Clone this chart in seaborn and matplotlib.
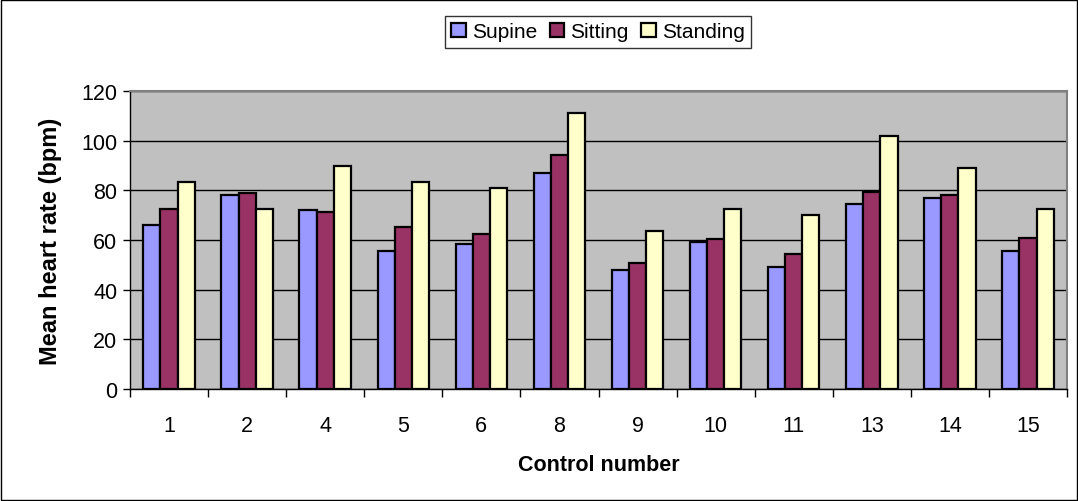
import matplotlib
matplotlib.use("Agg")
import matplotlib.pyplot as plt
import seaborn as sns
import pandas as pd
from matplotlib.patches import Rectangle

controls = ["1", "2", "4", "5", "6", "8", "9", "10", "11", "13", "14", "15"]
supine = [66.2, 78.3, 72.2, 55.5, 58.2, 87.1, 48.0, 59.0, 49.3, 74.4, 77.1, 55.5]
sitting = [72.5, 78.8, 71.4, 65.2, 62.3, 94.1, 50.9, 60.6, 54.2, 79.5, 78.3, 60.9]
standing = [83.3, 72.5, 89.8, 83.3, 81.1, 111.0, 63.7, 72.5, 69.9, 101.9, 88.8, 72.5]
series_names = ["Supine", "Sitting", "Standing"]
colors = ["#9999FF", "#993366", "#FFFFCC"]
y_ticks = [0, 20, 40, 60, 80, 100, 120]

rows = []
for name, vals in zip(series_names, [supine, sitting, standing]):
    for c, v in zip(controls, vals):
        rows.append({"Control": c, "Position": name, "Rate": v})
df = pd.DataFrame(rows)

sns.set_style("white")
plt.rcParams["font.family"] = ["Liberation Sans", "DejaVu Sans"]
plt.rcParams["text.color"] = "black"
plt.rcParams["axes.labelcolor"] = "black"
plt.rcParams["xtick.color"] = "black"
plt.rcParams["ytick.color"] = "black"

fig = plt.figure(figsize=(10.78, 5.02), dpi=100)
ax = fig.add_axes([130/1078, 1 - 390/502, (1067 - 130)/1078, (390 - 92)/502])
ax.set_facecolor("#C0C0C0")

sns.barplot(data=df, x="Control", y="Rate", hue="Position", order=controls,
            hue_order=series_names, palette=colors, width=0.66,
            edgecolor="black", linewidth=1.6, saturation=1, ax=ax, zorder=3)

ax.set_ylim(0, 120)
ax.set_xlim(-0.5, len(controls) - 0.5)
ax.set_yticks(y_ticks)
ax.yaxis.grid(True, color="black", linewidth=1, zorder=0)
ax.set_axisbelow(True)
ax.tick_params(axis="y", direction="out", length=5, width=1, color="black",
               labelcolor="black", labelsize=15.5, left=True, pad=4)
ax.set_xticks(range(len(controls)))
ax.set_xticklabels(controls)
ax.tick_params(axis="x", which="major", length=0, labelsize=15.5, pad=19,
               labelcolor="black")
ax.set_xticks([i - 0.5 for i in range(len(controls) + 1)], minor=True)
ax.tick_params(axis="x", which="minor", direction="out", length=6, width=1,
               color="black", bottom=True)

for s in ["left", "bottom"]:
    ax.spines[s].set_color("black")
    ax.spines[s].set_linewidth(1)
for s in ["top", "right"]:
    ax.spines[s].set_color("#808080")
    ax.spines[s].set_linewidth(1.5)

ax.set_xlabel("Control number", fontsize=15.5, fontweight="bold", labelpad=13,
              color="black")
ax.set_ylabel("Mean heart rate (bpm)", fontsize=17, fontweight="bold", labelpad=14,
              color="black")

leg = ax.legend(loc="upper center", bbox_to_anchor=(598/1078, 1 - 17/502),
                bbox_transform=fig.transFigure, ncol=3, frameon=True,
                fancybox=False, edgecolor="black", fontsize=15,
                handlelength=0.7, handleheight=0.7, handletextpad=0.3,
                columnspacing=0.6, borderpad=0.3, borderaxespad=0)
leg.get_frame().set_linewidth(1)
for t in leg.get_texts():
    t.set_color("black")
for h in leg.legend_handles:
    h.set_edgecolor("black")
    h.set_linewidth(1.6)

fig.patches.append(Rectangle((0.001, 0.001), 0.998, 0.997, transform=fig.transFigure,
                             fill=False, edgecolor="black", linewidth=1))

fig.savefig("out.png", dpi=100)
